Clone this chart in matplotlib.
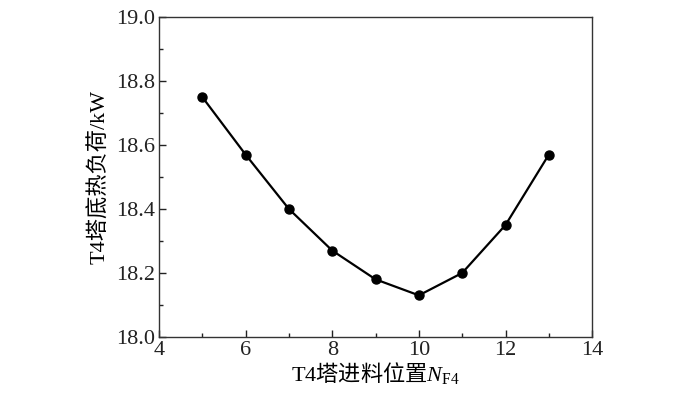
import matplotlib
matplotlib.use("Agg")
import matplotlib.pyplot as plt
from matplotlib.ticker import MultipleLocator

plt.rcParams['font.family'] = ['Liberation Serif', 'Noto Sans CJK SC']
plt.rcParams['mathtext.fontset'] = 'custom'
plt.rcParams['mathtext.rm'] = 'Noto Sans CJK SC'
plt.rcParams['mathtext.sf'] = 'Liberation Serif'
plt.rcParams['mathtext.it'] = 'Liberation Serif:italic'

# 进料位置与塔底热负荷
feed_stage = [5, 6, 7, 8, 9, 10, 11, 12, 13]
duty_kw = [18.75, 18.57, 18.40, 18.27, 18.18, 18.13, 18.20, 18.35, 18.57]

fig = plt.figure(figsize=(7, 3.95), dpi=100)
ax = fig.add_axes([0.227, 0.147, 0.619, 0.81])

ax.plot(feed_stage, duty_kw, color='black', lw=1.6, marker='o', ms=6.5)

ax.set_xlim(4, 14)
ax.set_ylim(18.0, 19.0)
ax.xaxis.set_major_locator(MultipleLocator(2))
ax.xaxis.set_minor_locator(MultipleLocator(1))
ax.yaxis.set_major_locator(MultipleLocator(0.2))
ax.yaxis.set_minor_locator(MultipleLocator(0.1))
ax.set_yticklabels([f"{v:.1f}" for v in ax.get_yticks()])
ax.tick_params(which='both', direction='in', labelsize=16, width=1, colors='#222222', pad=3)
ax.tick_params(which='major', length=5)
ax.tick_params(which='minor', length=3)
for s in ax.spines.values():
    s.set_linewidth(1)
    s.set_color('#333333')

ax.set_xlabel(r"$\mathsf{T4}\mathrm{塔进料位置}N_{\mathsf{F4}}$", fontsize=16, labelpad=0)
ax.set_ylabel("T4塔底热负荷/kW", fontsize=16, labelpad=4)

fig.savefig("out.png", dpi=100)
